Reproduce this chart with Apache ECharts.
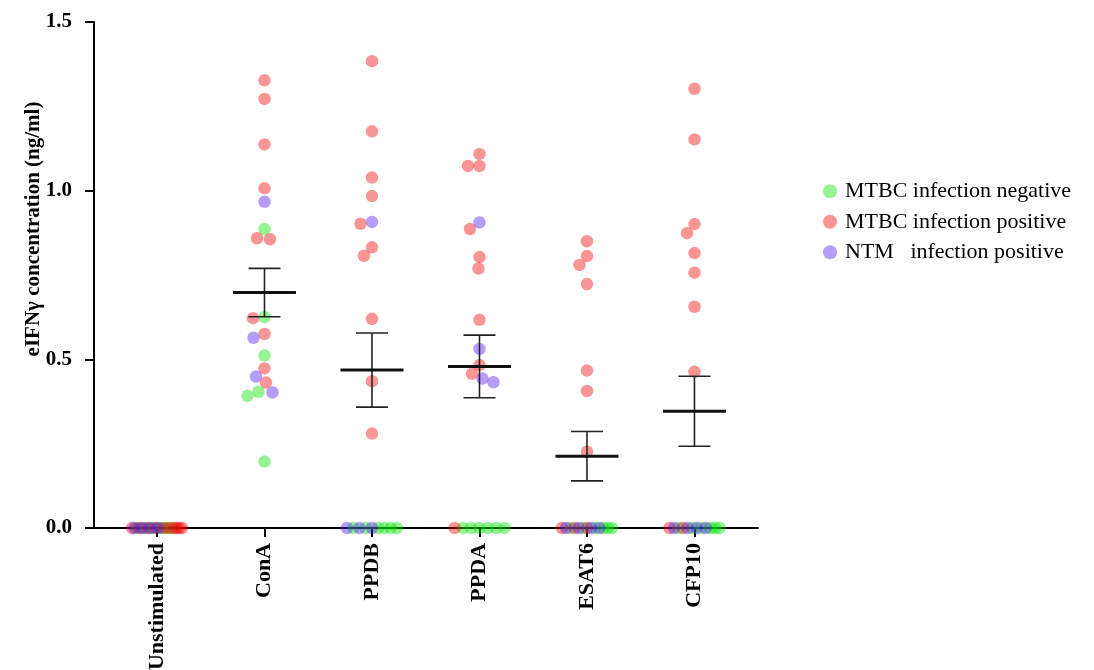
<!DOCTYPE html>
<html><head><meta charset="utf-8">
<script src="https://cdn.jsdelivr.net/npm/echarts@6/dist/echarts.min.js"></script>
<style>html,body{margin:0;padding:0;background:#fff}#chart{width:1094px;height:670px}</style>
</head><body><div id="chart"></div>
<script>
// ---------- data ----------
const categories = ['Unstimulated', 'ConA', 'PPDB', 'PPDA', 'ESAT6', 'CFP10'];
const groupNames = ['MTBC infection negative', 'MTBC infection positive', 'NTM   infection positive'];
// values per category, in category order
const mtbcNegative = [
  [0, 0, 0, 0, 0, 0],
  [0.886, 0.625, 0.511, 0.404, 0.392, 0.197],
  [0, 0, 0, 0, 0, 0],
  [0, 0, 0, 0, 0, 0],
  [0, 0, 0, 0, 0, 0],
  [0, 0, 0, 0, 0, 0]
];
const mtbcPositive = [
  [0, 0, 0, 0, 0, 0, 0, 0, 0, 0],
  [1.327, 1.272, 1.137, 1.007, 0.856, 0.859, 0.622, 0.575, 0.473, 0.431],
  [1.384, 1.176, 1.039, 0.984, 0.902, 0.832, 0.807, 0.620, 0.435, 0.280],
  [1.109, 1.073, 1.073, 0.886, 0.803, 0.769, 0.617, 0.483, 0.457, 0],
  [0.850, 0.806, 0.780, 0.723, 0.467, 0.406, 0.226, 0, 0, 0],
  [1.302, 1.152, 0.901, 0.874, 0.815, 0.757, 0.656, 0.463, 0, 0]
];
const ntmPositive = [
  [0, 0, 0, 0],
  [0.967, 0.564, 0.449, 0.402],
  [0.907, 0, 0, 0],
  [0.906, 0.531, 0.443, 0.432],
  [0, 0, 0, 0],
  [0, 0, 0, 0]
];
const yTickValues = [0, 0.5, 1.0, 1.5];
const yTitle = 'eIFNγ concentration (ng/ml)';

// ---------- styles ----------
const FONT = "'Liberation Serif', 'Times New Roman', serif";
const groupColors = ['rgba(0,225,0,0.52)', 'rgba(240,0,0,0.52)', 'rgba(77,21,241,0.52)'];
const DOT = 12.5;

const chart = echarts.init(document.getElementById('chart'));

const baseOption = {
  animation: false,
  backgroundColor: '#fff',
  grid: { left: 94, right: 336, top: 22, bottom: 142, containLabel: false, outerBoundsMode: 'none' },
  xAxis: {
    type: 'value', min: -0.586, max: 5.591,
    splitLine: { show: false },
    axisLine: { show: true, onZero: false, lineStyle: { color: '#000', width: 2 } },
    axisTick: { show: true, customValues: [0, 1, 2, 3, 4, 5], length: 9, lineStyle: { color: '#000', width: 2 } },
    axisLabel: {
      customValues: [0, 1, 2, 3, 4, 5],
      formatter: v => categories[Math.round(v)],
      rotate: 90, margin: 15,
      color: '#000', fontFamily: FONT, fontWeight: 'bold', fontSize: 22
    }
  },
  yAxis: {
    type: 'value', min: yTickValues[0], max: yTickValues[yTickValues.length - 1], interval: 0.5,
    splitLine: { show: false },
    axisLine: { show: true, onZero: false, lineStyle: { color: '#000', width: 2 } },
    axisTick: { show: true, length: 9, lineStyle: { color: '#000', width: 2 } },
    axisLabel: {
      formatter: v => v.toFixed(1), margin: 22,
      color: '#000', fontFamily: FONT, fontWeight: 'bold', fontSize: 21
    }
  },
  legend: {
    orient: 'vertical', left: 818, top: 175,
    icon: 'circle', itemWidth: 14, itemHeight: 14, itemGap: 8,
    data: groupNames,
    textStyle: { color: '#000', fontFamily: FONT, fontSize: 22, lineHeight: 22.5, padding: [0, 0, 0, 3] }
  },
  graphic: [{
    type: 'text', x: 34, y: 229, rotation: Math.PI / 2,
    style: {
      text: yTitle, fill: '#000',
      font: "bold 21px 'Liberation Serif', 'Times New Roman', serif",
      align: 'center', verticalAlign: 'middle',
      textAlign: 'center', textVerticalAlign: 'middle'
    }
  }],
  series: []
};
chart.setOption(baseOption);

// ---------- layout of dots (zeros in a row, others in a swarm) ----------
const groups = [mtbcNegative, mtbcPositive, ntmPositive];
const seriesData = groups.map(() => []);
const D = 11.5;
categories.forEach((cat, ci) => {
  const perGroupZeros = groups.map(() => []);
  const pts = [];
  groups.forEach((g, gi) => g[ci].forEach(v => {
    if (v === 0) perGroupZeros[gi].push(gi); else pts.push({ gi, v });
  }));
  const zeros = [];
  const order = [1, 2, 0];
  let more = true;
  while (more) {
    more = false;
    order.forEach(gi => { if (perGroupZeros[gi].length) { zeros.push(perGroupZeros[gi].pop()); more = true; } });
  }
  const span = 50;
  zeros.forEach((gi, k) => {
    const dx = zeros.length > 1 ? -span / 2 + span * k / (zeros.length - 1) : 0;
    seriesData[gi].push({ value: [ci, 0], symbolOffset: [dx, 0] });
  });
  pts.sort((a, b) => b.v - a.v);
  const placed = [];
  pts.forEach(p => {
    const py = chart.convertToPixel({ yAxisIndex: 0 }, p.v);
    let dx = 0;
    for (let s = 0; s < 400; s++) {
      const cands = s === 0 ? [0] : [-s * 0.5, s * 0.5];
      let found = null;
      for (const c of cands) {
        if (placed.every(q => Math.hypot(q.dx - c, q.py - py) >= D)) { found = c; break; }
      }
      if (found !== null) { dx = found; break; }
    }
    placed.push({ dx, py });
    seriesData[p.gi].push({ value: [ci, p.v], symbolOffset: [dx, 0] });
  });
});

// ---------- mean and SEM from the values ----------
const statsData = categories.map((c, ci) => {
  const all = groups.flatMap(g => g[ci]);
  const n = all.length;
  const mean = all.reduce((a, b) => a + b, 0) / n;
  const sd = Math.sqrt(all.reduce((a, b) => a + (b - mean) * (b - mean), 0) / (n - 1));
  return [ci, mean, sd / Math.sqrt(n)];
});

const series = groups.map((g, gi) => ({
  name: groupNames[gi], type: 'scatter', symbol: 'circle', symbolSize: DOT,
  itemStyle: { color: groupColors[gi] },
  emphasis: { disabled: true },
  data: seriesData[gi], z: 2 + gi
}));
series.push({
  name: 'mean ± SEM', type: 'custom', z: 10,
  data: statsData,
  renderItem: (params, api) => {
    const ci = api.value(0), m = api.value(1), s = api.value(2);
    if (m === 0) return { type: 'group', children: [] };
    const c = api.coord([ci, m]), t = api.coord([ci, m + s]), b = api.coord([ci, m - s]);
    const err = { stroke: '#222', lineWidth: 1.6 };
    return {
      type: 'group', children: [
        { type: 'line', shape: { x1: c[0], y1: t[1], x2: c[0], y2: b[1] }, style: err },
        { type: 'line', shape: { x1: c[0] - 16, y1: t[1], x2: c[0] + 16, y2: t[1] }, style: err },
        { type: 'line', shape: { x1: c[0] - 16, y1: b[1], x2: c[0] + 16, y2: b[1] }, style: err },
        { type: 'line', shape: { x1: c[0] - 31.5, y1: c[1], x2: c[0] + 31.5, y2: c[1] }, style: { stroke: '#111', lineWidth: 3 } }
      ]
    };
  }
});
chart.setOption({ series });
</script></body></html>
